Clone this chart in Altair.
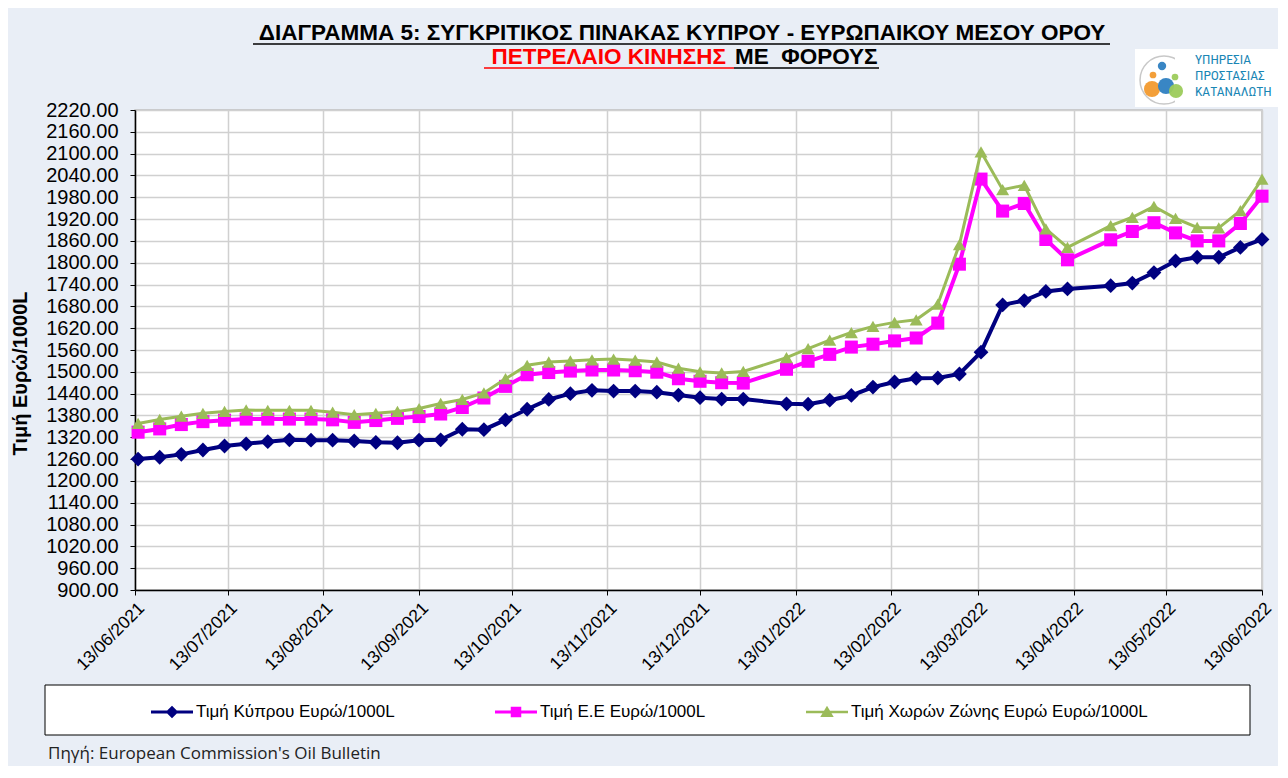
import altair as alt
import pandas as pd

# ---------------- data ----------------
dates = [
    "2021-06-14", "2021-06-21", "2021-06-28", "2021-07-05", "2021-07-12", "2021-07-19",
    "2021-07-26", "2021-08-02", "2021-08-09", "2021-08-16", "2021-08-23", "2021-08-30",
    "2021-09-06", "2021-09-13", "2021-09-20", "2021-09-27", "2021-10-04", "2021-10-11",
    "2021-10-18", "2021-10-25", "2021-11-01", "2021-11-08", "2021-11-15", "2021-11-22",
    "2021-11-29", "2021-12-06", "2021-12-13", "2021-12-20", "2021-12-27",
    "2022-01-10", "2022-01-17", "2022-01-24", "2022-01-31", "2022-02-07", "2022-02-14",
    "2022-02-21", "2022-02-28", "2022-03-07", "2022-03-14", "2022-03-21", "2022-03-28",
    "2022-04-04", "2022-04-11",
    "2022-04-25", "2022-05-02", "2022-05-09", "2022-05-16", "2022-05-23", "2022-05-30",
    "2022-06-06", "2022-06-13",
]
cyprus = [
    1260, 1265, 1273, 1285, 1296, 1302, 1308, 1313, 1312, 1312, 1310, 1306,
    1305, 1312, 1313, 1342, 1341, 1368, 1397, 1424, 1440, 1449, 1447, 1447,
    1444, 1436, 1429, 1425, 1425,
    1412, 1411, 1422, 1435, 1458, 1472, 1482, 1483, 1494, 1554, 1684, 1696,
    1721, 1728,
    1737, 1744, 1773, 1805, 1815, 1815, 1842, 1864,
]
eu = [
    1334, 1343, 1355, 1363, 1367, 1370, 1370, 1370, 1370, 1368, 1361, 1366,
    1372, 1377, 1384, 1402, 1428, 1460, 1492, 1498, 1502, 1505, 1505, 1503,
    1499, 1481, 1474, 1470, 1469,
    1507, 1529, 1548, 1568, 1576, 1585, 1593, 1634, 1796, 2030, 1942, 1963,
    1864, 1808,
    1863, 1886, 1910, 1882, 1860, 1860, 1908, 1983,
]
eurozone = [
    1358, 1369, 1378, 1386, 1391, 1395, 1394, 1394, 1394, 1389, 1382, 1386,
    1391, 1399, 1413, 1424, 1442, 1481, 1518, 1527, 1530, 1533, 1535, 1532,
    1527, 1510, 1500, 1497, 1501,
    1539, 1564, 1587, 1608, 1625, 1636, 1643, 1686, 1850, 2105, 2001, 2013,
    1893, 1842,
    1902, 1925, 1955, 1922, 1897, 1896, 1943, 2030,
]
series_names = [
    "Τιμή Κύπρου Ευρώ/1000L",
    "Τιμή Ε.Ε Ευρώ/1000L",
    "Τιμή Χωρών Ζώνης Ευρώ Ευρώ/1000L",
]
y_ticks = list(range(900, 2221, 60))
x_tick_months = [(2021, m) for m in range(6, 13)] + [(2022, m) for m in range(1, 7)]

title_line1 = "ΔΙΑΓΡΑΜΜΑ 5: ΣΥΓΚΡΙΤΙΚΟΣ ΠΙΝΑΚΑΣ ΚΥΠΡΟΥ - ΕΥΡΩΠΑΙΚΟΥ ΜΕΣΟΥ ΟΡΟΥ"
title_red = "ΠΕΤΡΕΛΑΙΟ ΚΙΝΗΣΗΣ"
title_black = "ΜΕ\u00a0 ΦΟΡΟΥΣ"
y_title = "Τιμή Ευρώ/1000L"
source_text = "Πηγή: European Commission's Oil Bulletin"
logo_lines = ["ΥΠΗΡΕΣΙΑ", "ΠΡΟΣΤΑΣΙΑΣ", "ΚΑΤΑΝΑΛΩΤΗ"]

# ---------------- table ----------------
rows = []
for name, vals in zip(series_names, [cyprus, eu, eurozone]):
    for d, v in zip(dates, vals):
        rows.append({"date": pd.Timestamp(d), "value": v, "series": name})
df = pd.DataFrame(rows)
one = pd.DataFrame({"k": [0]})

# ---------------- styling ----------------
FONT = "Liberation Sans"
NARROW = "Liberation Sans Narrow, Roboto Condensed, Liberation Sans"
BG = "#E9EEF6"
colors = ["#000080", "#FF00FF", "#9BBB59"]
shapes = ["diamond", "square", "triangle-up"]
sizes = [220, 170, 170]
widths = [4, 4, 3]
legend_paths = [
    "M-1,-0.07L1,-0.07L1,0.07L-1,0.07Z M0,-0.3L0.3,0L0,0.3L-0.3,0Z",
    "M-1,-0.07L1,-0.07L1,0.07L-1,0.07Z M-0.25,-0.25L0.25,-0.25L0.25,0.25L-0.25,0.25Z",
    "M-1,-0.06L1,-0.06L1,0.06L-1,0.06Z M0,-0.3L0.32,0.24L-0.32,0.24Z",
]

x_enc = alt.X(
    "date:T",
    scale=alt.Scale(domain=[alt.DateTime(year=2021, month=6, date=13),
                            alt.DateTime(year=2022, month=6, date=13)]),
    axis=alt.Axis(
        values=[alt.DateTime(year=y, month=m, date=13) for y, m in x_tick_months],
        format="%d/%m/%Y", labelAngle=-45, title=None,
        labelFont=FONT, labelFontSize=17.5, labelColor="black",
        labelOverlap=False, labelFlush=False, labelPadding=4,
        tickColor="black", tickSize=5, domainColor="black", domainWidth=1.5,
        grid=True, gridColor="#D0D0D0", gridWidth=1.5,
    ),
)
y_enc = alt.Y(
    "value:Q",
    scale=alt.Scale(domain=[900, 2220], nice=False, zero=False),
    axis=alt.Axis(
        values=y_ticks, format=".2f",
        title=y_title, titleFont=FONT, titleFontSize=20, titleFontWeight="bold",
        titleColor="black", titleAngle=270, titleX=-115, titleY=263,
        titleAlign="center", titleBaseline="middle",
        labelFont=FONT, labelFontSize=20, labelColor="black", labelPadding=12,
        tickColor="black", tickSize=5, domainColor="black", domainWidth=1.5,
        grid=True, gridColor="#D0D0D0", gridWidth=1.5,
    ),
)

layers = []

# legend frame (drawn first, underneath everything)
layers.append(
    alt.Chart(one).mark_rect(fill="white", stroke="black", strokeWidth=1).encode(
        x=alt.value(-90), x2=alt.value(1115), y=alt.value(575), y2=alt.value(625))
)

for name, col, shp, sz, w in zip(series_names, colors, shapes, sizes, widths):
    base = alt.Chart(df).transform_filter(alt.datum.series == name)
    layers.append(base.mark_line(color=col, strokeWidth=w).encode(x=x_enc, y=y_enc))
    layers.append(base.mark_point(filled=True, shape=shp, size=sz, color=col, opacity=1)
                  .encode(x=x_enc, y=y_enc))

leg = alt.Legend(
    title=None, orient="none", legendX=16, legendY=581, direction="horizontal",
    symbolSize=1764, symbolStrokeWidth=0, symbolOpacity=1, padding=0,
    labelFont=FONT, labelFontSize=17, labelColor="black", labelLimit=600,
    labelOffset=3, columnPadding=100,
)
layers.append(
    alt.Chart(df).transform_filter(alt.datum.value < 0).mark_point(filled=True).encode(
        x=x_enc, y=y_enc,
        color=alt.Color("series:N", scale=alt.Scale(domain=series_names, range=colors), legend=leg),
        shape=alt.Shape("series:N", scale=alt.Scale(domain=series_names, range=legend_paths), legend=leg),
    )
)

# titles
TFONT = "Liberation Sans"
TSIZE = 22.5
layers.append(alt.Chart(one).mark_text(text=title_line1, font=TFONT, fontSize=TSIZE, fontWeight="bold",
                                       align="center", baseline="middle", color="black")
              .encode(x=alt.value(547), y=alt.value(-77)))
layers.append(alt.Chart(one).mark_rule(color="black", strokeWidth=1.5)
              .encode(x=alt.value(118), x2=alt.value(975), y=alt.value(-66)))
layers.append(alt.Chart(one).mark_text(text=title_red, font=TFONT, fontSize=TSIZE, fontWeight="bold",
                                       align="right", baseline="middle", color="#FF0000")
              .encode(x=alt.value(591), y=alt.value(-53)))
layers.append(alt.Chart(one).mark_text(text=title_black, font=TFONT, fontSize=TSIZE, fontWeight="bold",
                                       align="left", baseline="middle", color="black")
              .encode(x=alt.value(600), y=alt.value(-53)))
layers.append(alt.Chart(one).mark_rule(color="#FF0000", strokeWidth=1.5)
              .encode(x=alt.value(349), x2=alt.value(599), y=alt.value(-42)))
layers.append(alt.Chart(one).mark_rule(color="black", strokeWidth=1.5)
              .encode(x=alt.value(599), x2=alt.value(744), y=alt.value(-42)))

# source
layers.append(alt.Chart(one).mark_text(text=source_text, font="Open Sans", fontSize=17,
                                       align="left", baseline="middle", color="#222222")
              .encode(x=alt.value(-87), y=alt.value(644)))

# logo
layers.append(alt.Chart(one).mark_rect(fill="white").encode(
    x=alt.value(1000), x2=alt.value(1145), y=alt.value(-61), y2=alt.value(-3)))
layers.append(alt.Chart(one).mark_point(filled=False, shape="circle", size=2300, color="#C8C8C8",
                                        strokeWidth=1.5, opacity=1)
              .encode(x=alt.value(1029), y=alt.value(-30)))
layers.append(alt.Chart(one).mark_rect(fill="white").encode(
    x=alt.value(1040), x2=alt.value(1060), y=alt.value(-60), y2=alt.value(-4)))
logo_dots = [
    (1017, -21, 260, "#F29A2E"),
    (1031, -24, 260, "#2E7FC1"),
    (1041, -19, 200, "#9CCB5B"),
    (1027, -44, 70, "#2E7FC1"),
    (1018, -35, 45, "#F29A2E"),
    (1040, -33, 45, "#9CCB5B"),
]
for dx, dy, ds, dc in logo_dots:
    layers.append(alt.Chart(one).mark_point(filled=True, shape="circle", size=ds, color=dc, opacity=0.95)
                  .encode(x=alt.value(dx), y=alt.value(dy)))
for i, t in enumerate(logo_lines):
    layers.append(alt.Chart(one).mark_text(text=t, font=NARROW, fontSize=13.5,
                                           align="left", baseline="middle", color="#1A86B5")
                  .encode(x=alt.value(1060), y=alt.value(-50 + 16 * i)))

chart = alt.layer(*layers).properties(
    width=1127, height=480,
    autosize=alt.AutoSizeParams(type="none"),
    padding={"left": 127, "top": 102, "right": 16, "bottom": 176},
    background=BG,
).configure_view(stroke="#BFBFBF", strokeWidth=1.5, fill="white")

chart.save("out.html", embed_options={"renderer": "svg", "actions": False})
